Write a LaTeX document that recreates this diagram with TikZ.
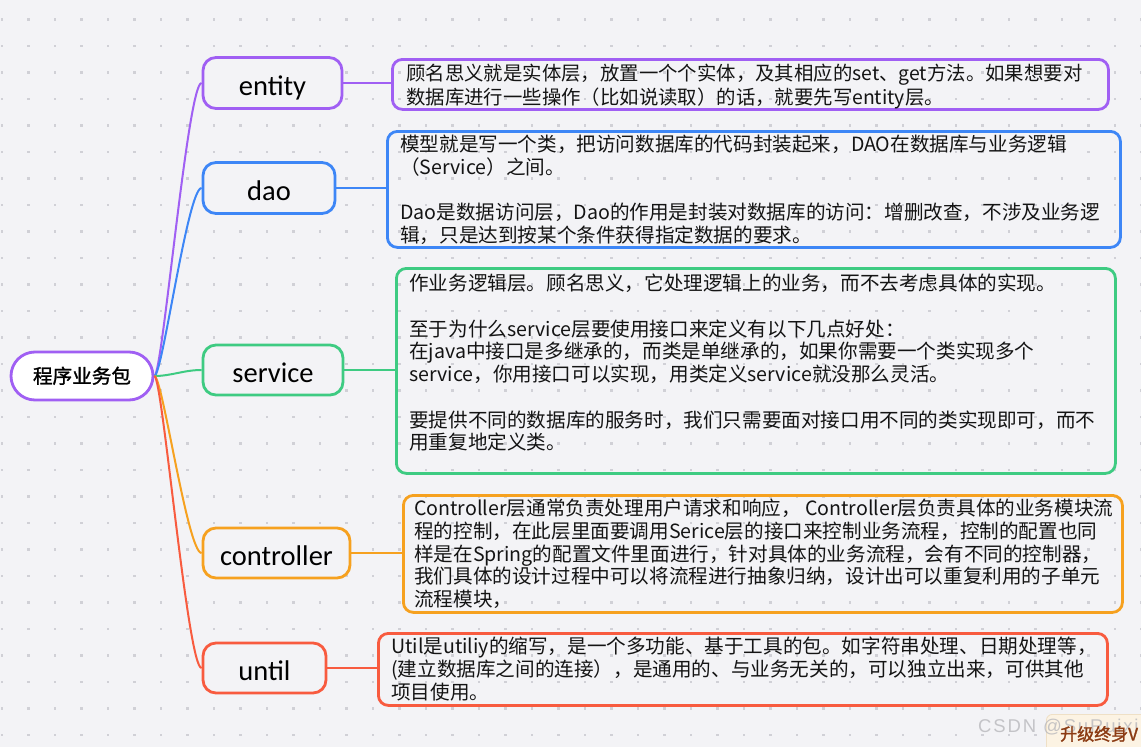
\documentclass[tikz,border=0pt]{standalone}
\usepackage{fontspec}
\setmainfont{Noto Sans CJK SC}
\newfontfamily\rootfont[FakeBold=1.3]{Noto Sans CJK SC}
\newfontfamily\badgefont[FakeBold=1.5]{Noto Sans CJK SC}
\newfontfamily\topicfont{Carlito}
\newfontfamily\wmfont[LetterSpace=10]{Liberation Sans}
\usetikzlibrary{calc}
\definecolor{bg}{HTML}{F3F3F6}
\definecolor{dotc}{HTML}{D0D0D6}
\definecolor{cpurple}{HTML}{A05FF3}
\definecolor{cblue}{HTML}{3D86F6}
\definecolor{cgreen}{HTML}{3ECB82}
\definecolor{corange}{HTML}{F6A11F}
\definecolor{cred}{HTML}{F85B3F}
\definecolor{txt}{HTML}{141414}
\definecolor{wmgray}{HTML}{B8B8BC}
\definecolor{badgebg}{HTML}{FCF3E3}
\definecolor{badgebd}{HTML}{EFE0C6}
\definecolor{badgetx}{HTML}{8B3A12}
\begin{document}
\begin{tikzpicture}[x=1pt,y=-1pt,
  topic/.style={draw=#1, line width=2.8pt, rounded corners=13pt, fill=bg, inner sep=0pt,
    font=\topicfont\fontsize{28.5}{32}\selectfont, text=black, text height=24pt, text depth=0pt},
  descbox/.style={draw=#1, line width=2.8pt, rounded corners=10pt, inner sep=0pt, anchor=north west},
  desctext/.style={anchor=north west, inner sep=0pt, align=left, font=\fontsize{19.6}{22.7}\selectfont, text=txt},
  branch/.style={draw=#1, line width=2pt},
]
\fill[bg] (0,0) rectangle (1141,747);
\useasboundingbox (0,0) rectangle (1141,747);
\foreach \i in {0,...,43} \foreach \j in {0,...,27}
  \fill[dotc] ({0.8+26.5*\i},{18.3+26.5*\j}) rectangle +(2.4,2.4);

% description boxes
\node[descbox=cpurple, minimum width=716pt, minimum height=50pt] (entd) at (391,58) {};
\node[descbox=cblue, minimum width=733pt, minimum height=116pt] (daod) at (386,130) {};
\node[descbox=cgreen, minimum width=719pt, minimum height=205pt] (svcd) at (395,267) {};
\node[descbox=corange, minimum width=719pt, minimum height=117pt] (ctld) at (402,494) {};
\node[descbox=cred, minimum width=729pt, minimum height=72pt] (utld) at (377,632) {};

% texts
\node[desctext, font=\fontsize{19.4}{24}\selectfont] (entt) at (406,63.5) {顾名思义就是实体层，放置一个个实体，及其相应的set、get方法。如果想要对\\数据库进行一些操作（比如说读取）的话，就要先写entity层。};
\node[desctext] (daot) at (400,135) {模型就是写一个类，把访问数据库的代码封装起来，DAO在数据库与业务逻辑\\（Service）之间。\\[22.7pt]Dao是数据访问层，Dao的作用是封装对数据库的访问：增删改查，不涉及业务逻\\辑，只是达到按某个条件获得指定数据的要求。};
\node[desctext] (svct) at (409,274) {作业务逻辑层。顾名思义，它处理逻辑上的业务，而不去考虑具体的实现。\\[22.7pt]至于为什么service层要使用接口来定义有以下几点好处：\\在java中接口是多继承的，而类是单继承的，如果你需要一个类实现多个\\service，你用接口可以实现，用类定义service就没那么灵活。\\[22.7pt]要提供不同的数据库的服务时，我们只需要面对接口用不同的类实现即可，而不\\用重复地定义类。};
\node[desctext] (ctlt) at (414,499) {Controller层通常负责处理用户请求和响应， Controller层负责具体的业务模块流\\程的控制，在此层里面要调用Serice层的接口来控制业务流程，控制的配置也同\\样是在Spring的配置文件里面进行，针对具体的业务流程，会有不同的控制器，\\我们具体的设计过程中可以将流程进行抽象归纳，设计出可以重复利用的子单元\\流程模块，};
\node[desctext] (utlt) at (391,637) {Util是utiliy的缩写，是一个多功能、基于工具的包。如字符串处理、日期处理等，\\(建立数据库之间的连接），是通用的、与业务无关的，可以独立出来，可供其他\\项目使用。};

% topic positions
\coordinate (entc) at (272.5,83);
\coordinate (daoc) at (269,188);
\coordinate (svcc) at (273,370);
\coordinate (ctlc) at (276.5,553);
\coordinate (utlc) at (264.5,668);
\coordinate (rootc) at (82,376);

% topics
\node[topic=cpurple, minimum width=139pt, minimum height=51pt] (ent) at (entc) {entity};
\node[topic=cblue, minimum width=132pt, minimum height=51pt] (dao) at (daoc) {dao};
\node[topic=cgreen, minimum width=140pt, minimum height=50pt] (svc) at (svcc) {service};
\node[topic=corange, minimum width=147pt, minimum height=50pt] (ctl) at (ctlc) {controller};
\node[topic=cred, minimum width=123pt, minimum height=50pt] (utl) at (utlc) {until};

% root
\node[topic=cpurple, fill=white, rounded corners=24pt, minimum width=142pt, minimum height=48pt,
  font=\rootfont\fontsize{19.6}{24}\selectfont, text height=17pt, text depth=2.5pt] (root) at (rootc) {程序业务包};

% branches root -> topics
\draw[branch=cpurple] (root.east) .. controls +(8,0) and +(-14,0) .. (ent.west);
\draw[branch=cblue] (root.east) .. controls +(8,0) and +(-14,0) .. (dao.west);
\draw[branch=cgreen] (root.east) .. controls +(17,0) and +(-18,0) .. (svc.west);
\draw[branch=corange] (root.east) .. controls +(8,0) and +(-14,0) .. (ctl.west);
\draw[branch=cred] (root.east) .. controls +(8,0) and +(-14,0) .. (utl.west);

% topic -> description
\draw[branch=cpurple] (ent.east) -- (ent.east -| entd.west);
\draw[branch=cblue] (dao.east) -- (dao.east -| daod.west);
\draw[branch=cgreen] (svc.east) -- (svc.east -| svcd.west);
\draw[branch=corange] (ctl.east) -- (ctl.east -| ctld.west);
\draw[branch=cred] (utl.east) -- (utl.east -| utld.west);

% watermark and badge
\node[anchor=north west, fill=badgebg, draw=badgebd, line width=0.8pt, rounded corners=6pt,
  minimum width=110pt, minimum height=44pt, inner sep=0pt] (badge) at (1046,714) {};
\node[anchor=west, inner sep=0pt, text=wmgray, text opacity=0.8, font=\wmfont\fontsize{18.5}{22}\selectfont] (wm) at (978,727) {CSDN @SuRuixi};
\node[anchor=west, inner sep=0pt, text=badgetx, font=\badgefont\fontsize{17}{20}\selectfont] (badget) at (1060,734) {升级终身V};
\end{tikzpicture}
\end{document}
